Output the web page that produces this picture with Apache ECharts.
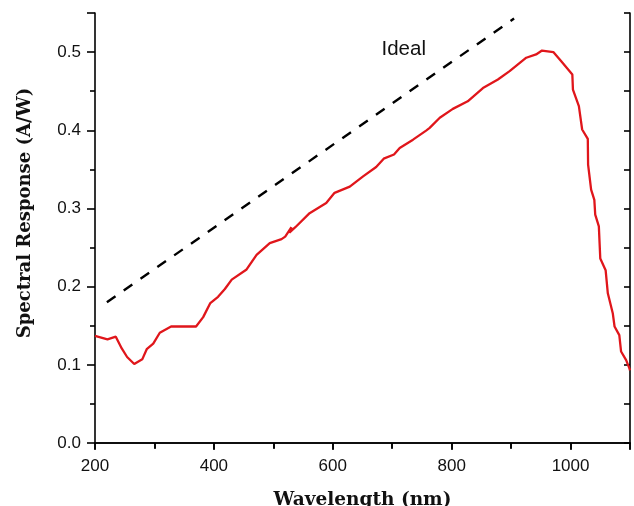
<!DOCTYPE html>
<html>
<head>
<meta charset="utf-8">
<script src="https://cdn.jsdelivr.net/npm/echarts@6/dist/echarts.min.js"></script>
<style>
html,body{margin:0;padding:0;background:#fff;}
#chart{width:634px;height:506px;}
</style>
</head>
<body>
<div id="chart"></div>
<script>
// Measured spectral response (red curve)
const wavelength = [200,221,235,245,254,266,279.5,287,298,309,328,370,382,394,407,418.5,430,455,471.8,494,513.8,520,530.5,527,537,561,589,603,628.6,651,673,685.7,703,712.6,735,757,763,780,802,827,852.6,877.8,897.5,925.5,942,952,971,984,1003,1004,1014,1019.5,1029,1029.5,1034.6,1040,1041.5,1047.6,1050,1059,1062.7,1071,1074,1082,1085,1093.5,1099,1100];
const response = [0.137,0.1326,0.136,0.121,0.110,0.101,0.107,0.120,0.127,0.141,0.149,0.149,0.161,0.179,0.187,0.197,0.209,0.222,0.2406,0.2556,0.2608,0.264,0.276,0.269,0.276,0.294,0.307,0.320,0.328,0.341,0.353,0.3637,0.369,0.3774,0.388,0.3996,0.403,0.416,0.4274,0.437,0.454,0.465,0.4756,0.4928,0.497,0.502,0.500,0.4885,0.4714,0.452,0.431,0.401,0.389,0.356,0.324,0.311,0.292,0.277,0.236,0.221,0.1915,0.166,0.149,0.138,0.117,0.106,0.0954,0.093];
// Ideal response (dashed line)
const idealWavelength = [220,905];
const idealResponse = [0.18,0.543];
// Axis ticks
const xMin = 200, xMax = 1100, xStep = 200;
const yMin = 0, yMax = 0.55, yStep = 0.1;
const xTitle = 'Wavelength (nm)';
const yTitle = 'Spectral Response (A/W)';
const annotation = 'Ideal';
const annotationPos = [682, 0.504];

const chart = echarts.init(document.getElementById('chart'), null, {renderer:'canvas'});
const axisLine = {show:true, lineStyle:{color:'#000', width:1.6}};
const labelFont = {color:'#111', fontSize:17, fontFamily:'Liberation Sans, Arial, sans-serif'};

chart.setOption({
  animation:false,
  backgroundColor:'#fff',
  grid:{left:95, right:4, top:13, bottom:63, containLabel:false, outerBoundsMode:'none'},
  xAxis:[{
    type:'value', min:xMin, max:xMax, interval:xStep, position:'bottom',
    axisLine:axisLine,
    axisTick:{show:true, inside:false, length:7, lineStyle:{color:'#000', width:1.6}},
    minorTick:{show:true, splitNumber:2, length:5, lineStyle:{color:'#000', width:1.6}},
    axisLabel:Object.assign({margin:15, showMaxLabel:false, formatter:v=>String(v)}, labelFont),
    splitLine:{show:false},
    name:xTitle, nameLocation:'middle', nameGap:48,
    nameTextStyle:{fontFamily:'DejaVu Serif', fontWeight:'bold', fontSize:18.5, color:'#111'}
  },{
    type:'value', min:xMin, max:xMax, interval:100, position:'top',
    axisLine:axisLine,
    axisTick:{show:true, inside:true, length:6, lineStyle:{color:'#000', width:1.6}},
    axisLabel:{show:false}, splitLine:{show:false}
  }],
  yAxis:[{
    type:'value', min:yMin, max:yMax, interval:yStep, position:'left',
    axisLine:axisLine,
    axisTick:{show:true, inside:false, length:8, lineStyle:{color:'#000', width:1.6}},
    minorTick:{show:true, splitNumber:2, length:5, lineStyle:{color:'#000', width:1.6}},
    axisLabel:Object.assign({margin:14, showMaxLabel:false, formatter:v=>v.toFixed(1)}, labelFont),
    splitLine:{show:false}
  },{
    type:'value', min:yMin, max:yMax, interval:0.05, position:'right',
    axisLine:axisLine,
    axisTick:{show:true, inside:true, length:6, lineStyle:{color:'#000', width:1.6}},
    axisLabel:{show:false}, splitLine:{show:false}
  }],
  series:[{
    type:'line', xAxisIndex:0, yAxisIndex:0,
    data:wavelength.map((w,i)=>[w,response[i]]),
    showSymbol:false, symbol:'none', smooth:false,
    lineStyle:{color:'#e0161b', width:2.3},
    clip:true
  },{
    type:'line', xAxisIndex:0, yAxisIndex:0,
    data:idealWavelength.map((w,i)=>[w,idealResponse[i]]),
    showSymbol:false, symbol:'none',
    lineStyle:{color:'#000', width:2.4, type:[10.5,10]},
    markPoint:{
      symbol:'circle', symbolSize:0,
      data:[{coord:annotationPos, value:annotation}],
      label:{show:true, position:'right', formatter:annotation, color:'#111', fontSize:20.5, fontFamily:'Liberation Sans, Arial, sans-serif', distance:0}
    }
  }],
  graphic:[{
    type:'text', x:25, y:213, rotation:Math.PI/2,
    style:{text:yTitle, fontFamily:'DejaVu Serif', fontWeight:'bold', fontSize:18, fill:'#111', textAlign:'center', textVerticalAlign:'middle'}
  }]
});
</script>
</body>
</html>
